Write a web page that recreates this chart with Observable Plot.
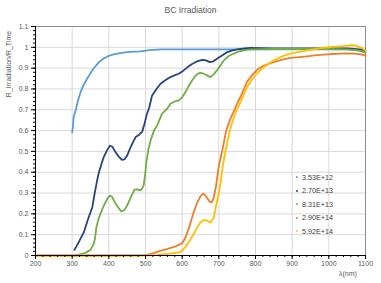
<!DOCTYPE html>
<html><head><meta charset="utf-8">
<script src="https://cdn.jsdelivr.net/npm/d3@7"></script>
<script src="https://cdn.jsdelivr.net/npm/@observablehq/plot@0.6"></script>
<style>
body{margin:0;background:#fff;}
#wrap{position:relative;width:381px;height:283px;font-family:"Liberation Sans",Arial,sans-serif;}
.ov{position:absolute;white-space:nowrap;}
</style></head><body><div id="wrap"></div>
<script>
const seriesNames = ["3.53E+12","2.70E+13","8.31E+13","2.90E+14","5.92E+14"];
const seriesColors = ["#5B9BD5","#264478","#70AD47","#ED7D31","#FFC000"];
const xTicks = [200,300,400,500,600,700,800,900,1000,1100];
const yTicks = [0,0.1,0.2,0.3,0.4,0.5,0.6,0.7,0.8,0.9,1,1.1];

const nm1 = [300,302,304,310,316,323,330,341,348,355,364,373,385,395,405,420,435,450,470,486,510,541,570,604,650,700,750,800,850,900,950,1000,1050,1080,1100];
const v1  = [0.59,0.62,0.665,0.70,0.745,0.785,0.815,0.85,0.87,0.89,0.91,0.929,0.945,0.955,0.962,0.968,0.973,0.977,0.979,0.981,0.987,0.99,0.99,0.99,0.99,0.99,0.99,0.99,0.99,0.99,0.99,0.99,0.99,0.985,0.978];

const nm2 = [306,312,318,325,332,338,345,355,362,368,373,380,386,395,403,410,418,427,435,443,450,458,466,473,482,491,497,503,510,518,530,541,555,568,580,591,604,615,627,640,655,665,675,685,695,710,723,737,750,770,786,850,900,950,1000,1050,1085,1100];
const v2  = [0.027,0.045,0.064,0.088,0.112,0.145,0.184,0.232,0.304,0.36,0.40,0.44,0.473,0.505,0.527,0.522,0.497,0.475,0.46,0.462,0.48,0.515,0.545,0.569,0.579,0.595,0.63,0.675,0.71,0.769,0.80,0.825,0.843,0.857,0.866,0.873,0.889,0.905,0.92,0.932,0.94,0.937,0.929,0.933,0.945,0.962,0.977,0.985,0.99,0.995,0.997,0.995,0.995,0.995,0.995,0.995,0.99,0.985];

const nm3 = [305,320,335,350,359,363,366,371,377,384,391,397,403,409,416,425,434,442,450,460,470,478,486,491,495,499,503,508,514,523,532,545,559,568,580,591,600,609,618,627,636,645,652,659,668,677,686,695,705,714,727,741,755,768,786,850,900,950,1000,1050,1080,1100];
const v3  = [0,0.005,0.012,0.027,0.056,0.09,0.136,0.17,0.20,0.23,0.256,0.276,0.288,0.281,0.256,0.232,0.212,0.218,0.24,0.28,0.316,0.318,0.313,0.322,0.337,0.39,0.457,0.51,0.553,0.60,0.625,0.681,0.705,0.729,0.74,0.745,0.76,0.785,0.815,0.841,0.862,0.876,0.877,0.873,0.865,0.857,0.87,0.889,0.915,0.9375,0.958,0.97,0.98,0.985,0.99,0.992,0.992,0.992,0.992,0.99,0.985,0.975];

const nm4 = [200,300,400,500,520,540,560,580,600,610,620,630,640,650,658,665,675,680,685,692,700,710,720,730,740,750,760,777,790,805,820,835,850,870,895,920,941,960,986,1010,1032,1050,1068,1085,1100];
const v4  = [0,0,0,0.002,0.01,0.022,0.032,0.043,0.058,0.09,0.14,0.2,0.25,0.285,0.297,0.285,0.258,0.255,0.27,0.33,0.43,0.51,0.6,0.65,0.69,0.73,0.765,0.835,0.865,0.893,0.91,0.92,0.929,0.94,0.949,0.953,0.957,0.961,0.965,0.968,0.97,0.971,0.97,0.967,0.96];

const nm5 = [200,300,400,500,530,560,580,595,609,620,632,641,650,659,668,677,686,695,700,705,710,718,723,730,741,750,759,777,795,810,823,850,870,895,920,941,965,986,1010,1032,1050,1062,1075,1086,1100];
const v5  = [0,0,0,0,0.003,0.008,0.012,0.016,0.04,0.07,0.104,0.135,0.16,0.17,0.168,0.158,0.18,0.26,0.3,0.35,0.42,0.5,0.54,0.6,0.665,0.705,0.737,0.81,0.857,0.885,0.905,0.9375,0.955,0.97,0.978,0.985,0.992,0.998,1.002,1.005,1.008,1.01,1.008,1.0,0.985];

const nms = [nm1,nm2,nm3,nm4,nm5];
const vals = [v1,v2,v3,v4,v5];
const data = [];
nms.forEach((arr,i)=>arr.forEach((x,j)=>data.push({s:seriesNames[i], x, y: vals[i][j]})));

const minorX = d3.range(200,1101,20);
const minorY = d3.range(0,56).map(i=>Math.round(i*2)/100);

const chart = Plot.plot({
  width:381, height:283,
  marginLeft:35, marginRight:16, marginTop:26, marginBottom:28,
  style:{fontFamily:"Liberation Sans, Arial, sans-serif", fontSize:"7px", background:"white", color:"#595959"},
  x:{domain:[200,1100], label:null},
  y:{domain:[0,1.1], label:null},
  color:{domain:seriesNames, range:seriesColors},
  marks:[
    Plot.gridX(xTicks,{stroke:"#d9d9d9", strokeOpacity:1}),
    Plot.gridY(yTicks,{stroke:"#d9d9d9", strokeOpacity:1}),
    Plot.frame({stroke:"#8c8c8c"}),
    Plot.line(data,{x:"x", y:"y", z:"s", stroke:"s", strokeWidth:1.8}),
    Plot.axisX(minorX,{tickSize:2, text:null, stroke:"black", label:null}),
    Plot.axisX(xTicks,{tickSize:4, tickPadding:2, tickFormat:d3.format("d"), stroke:"black", fill:"#595959", label:null}),
    Plot.axisY(minorY,{tickSize:2, text:null, stroke:"black", label:null}),
    Plot.axisY(yTicks,{tickSize:4, tickPadding:3, tickFormat:d=>String(Math.round(d*10)/10), stroke:"black", fill:"#595959", label:null}),
    Plot.ruleY([0],{stroke:"black"}),
    Plot.ruleX([200],{stroke:"black"})
  ]
});
const wrap = document.getElementById("wrap");
wrap.appendChild(chart);

function ov(html, css){const d=document.createElement("div");d.className="ov";d.innerHTML=html;Object.assign(d.style,css);wrap.appendChild(d);return d;}
ov("BC Irradiation",{left:"0",width:"381px",textAlign:"center",top:"5px",fontSize:"8.5px",color:"#595959"});
ov("λ(nm)",{left:"339px",top:"270px",fontSize:"7px",color:"#595959"});
ov("R_Irradiation/R_Time",{left:"8px",top:"64px",fontSize:"7px",color:"#595959",transform:"translate(-50%,-50%) rotate(-90deg)"});
seriesNames.forEach((n,i)=>{
  const top = 177 + i*13.6;
  ov("",{left:"296px",top:(top-1)+"px",width:"2px",height:"2px",background:seriesColors[i],borderRadius:"1px"});
  ov(n,{left:"302px",top:(top-4.5)+"px",fontSize:"7.2px",color:"#404040",lineHeight:"9px"});
});
</script></body></html>
